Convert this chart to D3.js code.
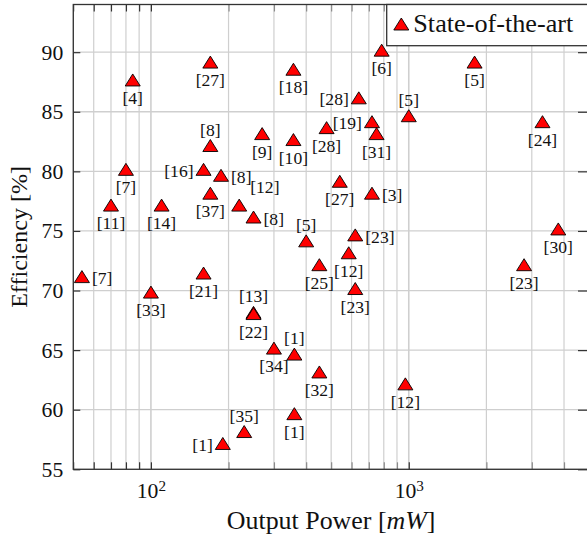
<!DOCTYPE html>
<html>
<head>
<meta charset="utf-8">
<script src="https://cdn.jsdelivr.net/npm/d3@7"></script>
<style>
  html, body { margin: 0; padding: 0; background: #fff; }
  svg { display: block; overflow: hidden; }
</style>
</head>
<body>
<svg id="chart"></svg>
<script>
// output power in mW, efficiency in %, reference number, where its label sits
var power = [85, 170, 357, 170, 270, 357, 80, 160, 187, 170, 220, 250, 70, 110,
             54, 100, 160, 250, 250, 300, 360, 190, 230, 360, 450, 970, 450, 585,
             620, 620, 400, 540, 720, 640, 720, 750, 480, 1000, 785, 1800, 3300, 3800, 2800];
var efficiency = [87.5, 89, 88.4, 82, 83, 82.5, 80, 80, 79.5, 78, 77, 76, 77, 77,
                  71, 69.7, 71.3, 68, 67.9, 65, 64.5, 57, 58, 59.5, 63, 62, 72, 73,
                  70, 74.5, 74, 79, 78, 86, 84, 83, 83.5, 84.5, 90, 89, 84, 75, 72];
var refs = ["4", "27", "18", "8", "9", "10", "7", "16", "8", "37", "12", "8", "11", "14",
            "7", "33", "21", "13", "22", "34", "1", "1", "35", "1", "32", "12", "25", "12",
            "23", "23", "5", "27", "3", "28", "19", "31", "28", "5", "6", "5", "24", "30", "23"];
var labelSide = ["below", "below", "below", "above", "below", "below", "below", "left", "right", "below", "above right", "right", "below", "below",
                 "right", "below", "below", "above", "below", "below", "above", "left", "above", "below", "below", "below", "below", "below",
                 "below", "right", "above", "below", "right", "left", "left", "below", "below", "above", "below", "below", "below", "below", "below"];

var yTicks = [55, 60, 65, 70, 75, 80, 85, 90];
var xLabelled = [100, 1000];
var seriesName = "State-of-the-art";

var CH;
(function () {
    "use strict";

    CH = {
        // pick the first serif face that is really there
        pickFont: function () {
            var ctx = document.createElement("canvas").getContext("2d");
            var probe = "Efficiency [%] 0123456789";
            ctx.font = "72px monospace";
            var base = ctx.measureText(probe).width;
            var names = ["Liberation Serif", "DejaVu Serif"];
            for (var i = 0; i < names.length; i++) {
                ctx.font = "72px '" + names[i] + "', monospace";
                if (Math.abs(ctx.measureText(probe).width - base) > 0.5) { return names[i]; }
            }
            return "serif";
        },

        // font size that makes a string as wide as in the picture
        fit: function (family, str, target, style) {
            var ctx = document.createElement("canvas").getContext("2d");
            ctx.font = (style || "") + " 100px '" + family + "'";
            return 100 * target / ctx.measureText(str).width;
        },

        draw: function () {
            var width = 587, height = 537;
            var left = 73.3, right = 589, top = 4.5, bottom = 469.3;

            var fam = CH.pickFont();
            var fsLabel = CH.fit(fam, "[27]", 29.3),
                fsTick = CH.fit(fam, "90", 21.7),
                fsLegend = CH.fit(fam, seriesName, 160),
                fsX = CH.fit(fam, "Output Power [mW]", 213),
                fsY = CH.fit(fam, "Efficiency [%]", 142);

            var svg = d3.select("#chart")
                .attr("width", width)
                .attr("height", height)
                .style("font-family", "'" + fam + "', serif");

            var x = d3.scaleLog().domain([50, 5000]).range([left, right]);
            var y = d3.scaleLinear().domain([55, 94]).range([bottom, top]);

            var xTicks = x.ticks();

            // grid
            var grid = svg.append("g");
            grid.selectAll("line.v")
                .data(xTicks)
                .enter().append("line")
                .attr("x1", function (d) { return x(d); })
                .attr("x2", function (d) { return x(d); })
                .attr("y1", top).attr("y2", bottom)
                .attr("stroke", "#cfcfcf")
                .attr("stroke-width", function (d) { return xLabelled.indexOf(d) >= 0 ? 1.6 : 1.2; });
            grid.selectAll("line.h")
                .data(yTicks)
                .enter().append("line")
                .attr("x1", left).attr("x2", right)
                .attr("y1", function (d) { return y(d); })
                .attr("y2", function (d) { return y(d); })
                .attr("stroke", "#cfcfcf")
                .attr("stroke-width", 1.3);

            // axes
            var yAxis = svg.append("g")
                .attr("transform", "translate(" + left + ",0)")
                .call(d3.axisLeft(y).tickValues(yTicks).tickSize(-7).tickPadding(10));
            svg.append("g")
                .attr("transform", "translate(" + right + ",0)")
                .call(d3.axisRight(y).tickValues(yTicks).tickSize(-11).tickFormat(""));

            var xAxis = svg.append("g")
                .attr("transform", "translate(0," + bottom + ")")
                .call(d3.axisBottom(x).tickValues(xTicks).tickSize(-7).tickPadding(13)
                    .tickFormat(function (d) { return xLabelled.indexOf(d) >= 0 ? d : ""; }));
            svg.append("g")
                .attr("transform", "translate(0," + top + ")")
                .call(d3.axisTop(x).tickValues(xTicks).tickSize(-7).tickFormat(""));

            svg.selectAll(".domain").remove();
            svg.selectAll("g").attr("font-family", null);
            svg.selectAll(".tick line")
                .attr("stroke", function (d) {
                    return (yTicks.indexOf(d) >= 0 || xLabelled.indexOf(d) >= 0) ? "#333" : "#8a8a8a";
                })
                .attr("stroke-width", 1.2);

            yAxis.selectAll("text")
                .attr("font-size", fsTick)
                .attr("fill", "#111");

            // 10^n labels with superscript
            xAxis.selectAll("text")
                .attr("font-size", fsTick)
                .attr("fill", "#111")
                .each(function (d) {
                    var t = d3.select(this);
                    if (xLabelled.indexOf(d) < 0) { return; }
                    t.text("10");
                    t.append("tspan")
                        .attr("font-size", fsTick * 0.7)
                        .attr("dy", "-0.45em")
                        .text(Math.round(Math.log10(d)));
                });

            // frame
            svg.append("rect")
                .attr("x", left).attr("y", top)
                .attr("width", right - left).attr("height", bottom - top)
                .attr("fill", "none")
                .attr("stroke", "#333")
                .attr("stroke-width", 1.3);

            var tri = {
                draw: function (ctx) {
                    var w = 7.5, h = 12;
                    ctx.moveTo(0, -2 * h / 3);
                    ctx.lineTo(w, h / 3);
                    ctx.lineTo(-w, h / 3);
                    ctx.closePath();
                }
            };

            var data = power.map(function (p, i) {
                return { p: p, e: efficiency[i], ref: refs[i], side: labelSide[i] };
            });

            var pts = svg.append("g");
            pts.selectAll("path")
                .data(data)
                .enter().append("path")
                .attr("d", d3.symbol().type(tri))
                .attr("transform", function (d) { return "translate(" + x(d.p) + "," + y(d.e) + ")"; })
                .attr("fill", "#ff0000")
                .attr("stroke", "#000")
                .attr("stroke-width", 0.9);

            var off = {
                "below": [0, 16.5, "middle"],
                "above": [0, -17.5, "middle"],
                "left": [-10, 0, "end"],
                "right": [10, 0, "start"],
                "above right": [11, -20, "start"]
            };

            pts.selectAll("text")
                .data(data)
                .enter().append("text")
                .attr("x", function (d) { return x(d.p) + off[d.side][0]; })
                .attr("y", function (d) { return y(d.e) + off[d.side][1]; })
                .attr("dy", "0.32em")
                .attr("text-anchor", function (d) { return off[d.side][2]; })
                .attr("font-size", fsLabel)
                .attr("fill", "#111")
                .text(function (d) { return "[" + d.ref + "]"; });

            // legend
            var lg = svg.append("g");
            lg.append("rect")
                .attr("x", 386.7).attr("y", top)
                .attr("width", right - 386.7).attr("height", 41.2)
                .attr("fill", "#fff")
                .attr("stroke", "#333")
                .attr("stroke-width", 1.3);
            lg.append("path")
                .attr("d", d3.symbol().type(tri))
                .attr("transform", "translate(401.3,26)")
                .attr("fill", "#ff0000")
                .attr("stroke", "#000")
                .attr("stroke-width", 0.9);
            lg.append("text")
                .attr("x", 413.3).attr("y", 31.7)
                .attr("font-size", fsLegend)
                .attr("fill", "#111")
                .text(seriesName);

            // axis titles
            var xt = svg.append("text")
                .attr("x", (left + right) / 2).attr("y", 529)
                .attr("text-anchor", "middle")
                .attr("font-size", fsX)
                .attr("fill", "#111");
            xt.append("tspan").text("Output Power [");
            xt.append("tspan").attr("font-style", "italic").text("mW");
            xt.append("tspan").text("]");

            svg.append("text")
                .attr("transform", "translate(27," + ((top + bottom) / 2) + ") rotate(-90)")
                .attr("text-anchor", "middle")
                .attr("font-size", fsY)
                .attr("fill", "#111")
                .text("Efficiency [%]");
        }
    };

    document.addEventListener("DOMContentLoaded", CH.draw);
}());
</script>
</body>
</html>
